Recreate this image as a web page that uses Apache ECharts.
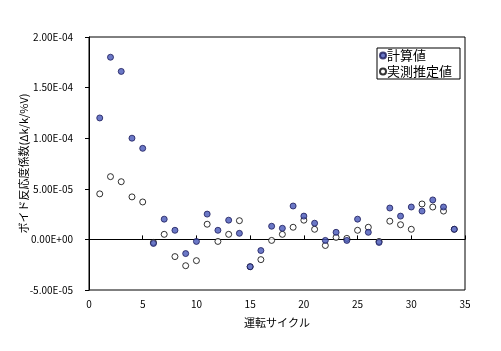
<!DOCTYPE html>
<html>
<head>
<meta charset="utf-8">
<script src="https://cdn.jsdelivr.net/npm/echarts@6/dist/echarts.min.js"></script>
<style>html,body{margin:0;padding:0;background:#fff;}#c{width:501px;height:351px;}</style>
</head>
<body>
<div id="c"></div>
<script>
const cycles = [1,2,3,4,5,6,7,8,9,10,11,12,13,14,15,16,17,18,19,20,21,22,23,24,25,26,27,28,29,30,31,32,33,34];
const calcValues = [1.2e-4,1.8e-4,1.66e-4,1.0e-4,9.0e-5,-4e-6,2.0e-5,9e-6,-1.4e-5,-2e-6,2.5e-5,9e-6,1.9e-5,6e-6,-2.7e-5,-1.1e-5,1.3e-5,1.1e-5,3.3e-5,2.3e-5,1.6e-5,-1e-6,7e-6,-1e-6,2.0e-5,7e-6,-3e-6,3.1e-5,2.3e-5,3.2e-5,2.8e-5,3.9e-5,3.2e-5,1.0e-5];
const measValues = [4.5e-5,6.2e-5,5.7e-5,4.2e-5,3.7e-5,-3e-6,5e-6,-1.7e-5,-2.6e-5,-2.1e-5,1.5e-5,-2e-6,5e-6,1.85e-5,-2.7e-5,-2.0e-5,-1e-6,5e-6,1.2e-5,1.9e-5,1.0e-5,-6e-6,2e-6,1e-6,9e-6,1.2e-5,-2e-6,1.8e-5,1.45e-5,1.0e-5,3.5e-5,3.2e-5,2.8e-5,1.0e-5];
const xTicks = [0,5,10,15,20,25,30,35];
const yTicks = [-5e-5,0,5e-5,1e-4,1.5e-4,2e-4];
const seriesNames = ['計算値','実測推定値'];

const font = '"Noto Sans CJK JP", sans-serif';
function fmtE(v){
  const s = Number(v).toExponential(2);
  const parts = s.split('e');
  const sign = parts[1][0];
  const d = parts[1].slice(1).padStart(2,'0');
  return parts[0] + 'E' + sign + d;
}
const chart = echarts.init(document.getElementById('c'), null, {renderer:'canvas'});
chart.setOption({
  animation:false,
  backgroundColor:'#fff',
  grid:{left:89, top:37, right:36, bottom:61, show:true, borderColor:'#000', borderWidth:1, backgroundColor:'transparent'},
  legend:{
    data:seriesNames, orient:'vertical', left:377, top:48,
    borderColor:'#000', borderWidth:1, padding:[1,8,1,2], itemGap:3,
    itemWidth:6, itemHeight:6, icon:'circle',
    textStyle:{fontFamily:font, fontSize:13, color:'#000', padding:[0,0,0,-4]}
  },
  xAxis:{
    type:'value', min:xTicks[0], max:xTicks[xTicks.length-1], interval:5,
    name:'運転サイクル', nameLocation:'middle', nameGap:27,
    nameTextStyle:{fontFamily:font, fontSize:11, color:'#000'},
    axisLine:{show:true, lineStyle:{color:'#000', width:1}},
    axisTick:{show:true, inside:true, length:4, lineStyle:{color:'#000'}},
    axisLabel:{fontFamily:font, fontSize:10, color:'#000', margin:9},
    splitLine:{show:false}
  },
  yAxis:{
    type:'value', min:yTicks[0], max:yTicks[yTicks.length-1], interval:5e-5,
    name:'ボイド反応度係数(Δk/k/%V)', nameLocation:'middle', nameRotate:90, nameGap:60,
    nameMoveOverlap:false,
    nameTextStyle:{fontFamily:font, fontSize:11, color:'#000'},
    axisLine:{show:true, lineStyle:{color:'#000', width:1}},
    axisTick:{show:true, inside:false, length:4, lineStyle:{color:'#000'}},
    axisLabel:{fontFamily:font, fontSize:10, color:'#000', margin:16, formatter:fmtE},
    splitLine:{show:false}
  },
  series:[
    {name:seriesNames[0], type:'scatter', z:3, symbol:'circle', symbolSize:6,
     data:cycles.map((c,i)=>[c, calcValues[i]]),
     itemStyle:{color:'#4656b8', borderColor:'#1a1a5a', borderWidth:1}},
    {name:seriesNames[1], type:'scatter', z:2, symbol:'circle', symbolSize:6,
     data:cycles.map((c,i)=>[c, measValues[i]]),
     itemStyle:{color:'#fff', borderColor:'#000', borderWidth:1}}
  ]
});
</script>
</body>
</html>
